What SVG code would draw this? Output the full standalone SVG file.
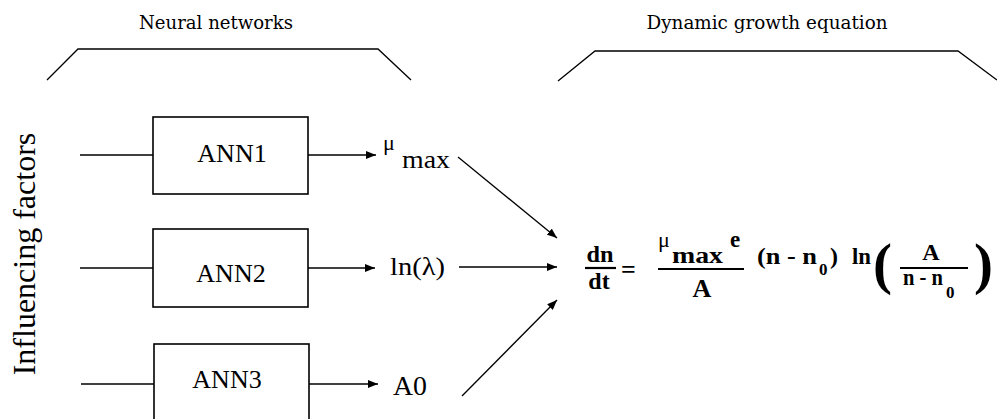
<svg xmlns="http://www.w3.org/2000/svg" width="997" height="419" viewBox="0 0 997 419">
<style>
.ln{fill:none;stroke:#000;stroke-width:1.3}
.box{fill:#fff;stroke:#000;stroke-width:1.6}
.bar{stroke:#000;stroke-width:2.2}
.t{font-family:"Liberation Serif",serif;fill:#000}
.h{font-family:"DejaVu Serif",serif;font-size:18px;fill:#000}
.eq{font-family:"Liberation Serif",serif;font-weight:bold;fill:#000}
</style>
<defs>
<marker id="ah" viewBox="0 0 10 8" refX="10" refY="4" markerWidth="10" markerHeight="8" markerUnits="userSpaceOnUse" orient="auto">
<path d="M0,0 L10,4 L0,8 Z" fill="#000"/>
</marker>
</defs>
<rect width="997" height="419" fill="#fff"/>

<g id="header-left">
<text class="h" x="216" y="29" text-anchor="middle" textLength="154" lengthAdjust="spacingAndGlyphs">Neural networks</text>
<polyline class="ln" points="47,80 78,49 378,49 411,80"/>
</g>
<g id="header-right">
<text class="h" x="767" y="29" text-anchor="middle" textLength="241" lengthAdjust="spacingAndGlyphs">Dynamic growth equation</text>
<polyline class="ln" points="558,81 595,51 958,51 997,80"/>
</g>

<g id="influencing">
<text class="t" font-size="32" transform="translate(35,254) rotate(-90)" text-anchor="middle">Influencing factors</text>
</g>

<g id="ann1">
<rect class="box" x="153" y="117" width="155" height="77"/>
<text class="t" font-size="26" x="232" y="162" text-anchor="middle">ANN1</text>
</g>
<g id="ann2">
<rect class="box" x="153" y="229" width="155" height="78"/>
<text class="t" font-size="26" x="231" y="282" text-anchor="middle">ANN2</text>
</g>
<g id="ann3">
<rect class="box" x="154" y="344" width="155" height="90"/>
<text class="t" font-size="26" x="227" y="388" text-anchor="middle">ANN3</text>
</g>

<g id="mumax">
<text class="t" font-size="22" x="383" y="150">μ</text>
<text class="t" font-size="26" x="402" y="168" textLength="48" lengthAdjust="spacingAndGlyphs">max</text>
</g>
<g id="lnlambda">
<text class="t" font-size="26" x="390" y="275" textLength="55" lengthAdjust="spacingAndGlyphs">ln(λ)</text>
</g>
<g id="a0">
<text class="t" font-size="27" x="393" y="395" textLength="34" lengthAdjust="spacingAndGlyphs">A0</text>
</g>

<g id="connectors">
<line class="ln" x1="80" y1="155" x2="153" y2="155"/>
<line class="ln" x1="80" y1="268" x2="153" y2="268"/>
<line class="ln" x1="81" y1="384" x2="154" y2="384"/>
<line class="ln" x1="308" y1="155" x2="376" y2="155" marker-end="url(#ah)"/>
<line class="ln" x1="308" y1="268" x2="375" y2="268" marker-end="url(#ah)"/>
<line class="ln" x1="309" y1="384" x2="378" y2="384" marker-end="url(#ah)"/>
<line class="ln" x1="458" y1="157" x2="557" y2="238" marker-end="url(#ah)"/>
<line class="ln" x1="459" y1="267" x2="557" y2="267" marker-end="url(#ah)"/>
<line class="ln" x1="462" y1="396" x2="557" y2="300" marker-end="url(#ah)"/>
</g>

<g id="equation">
<text class="eq" font-size="24" x="600" y="262" text-anchor="middle" textLength="27" lengthAdjust="spacingAndGlyphs">dn</text>
<line class="bar" x1="585" y1="268" x2="616" y2="268"/>
<text class="eq" font-size="24" x="599" y="289" text-anchor="middle">dt</text>
<text class="eq" font-size="26" x="621" y="278">=</text>
<text class="t" font-size="22" x="658" y="247">μ</text>
<text class="eq" font-size="24" x="672" y="263" textLength="51" lengthAdjust="spacingAndGlyphs">max</text>
<text class="eq" font-size="23" x="730" y="247">e</text>
<line class="bar" x1="658" y1="269" x2="744" y2="269"/>
<text class="eq" font-size="26" x="702" y="297" text-anchor="middle">A</text>
<text class="eq" font-size="24" x="757" y="264" textLength="60" lengthAdjust="spacingAndGlyphs">(n - n</text>
<text class="eq" font-size="17" x="819" y="275">0</text>
<text class="eq" font-size="24" x="830" y="264">)</text>
<text class="eq" font-size="24" x="852" y="264" textLength="19" lengthAdjust="spacingAndGlyphs">ln</text>
<text class="eq" font-size="57" x="873" y="283">(</text>
<text class="eq" font-size="24" x="931" y="260" text-anchor="middle">A</text>
<line class="bar" x1="900" y1="268" x2="968" y2="268"/>
<text class="eq" font-size="24" x="903" y="285" textLength="40" lengthAdjust="spacingAndGlyphs">n - n</text>
<text class="eq" font-size="17" x="946" y="298">0</text>
<text class="eq" font-size="57" x="974" y="283">)</text>
</g>
</svg>
